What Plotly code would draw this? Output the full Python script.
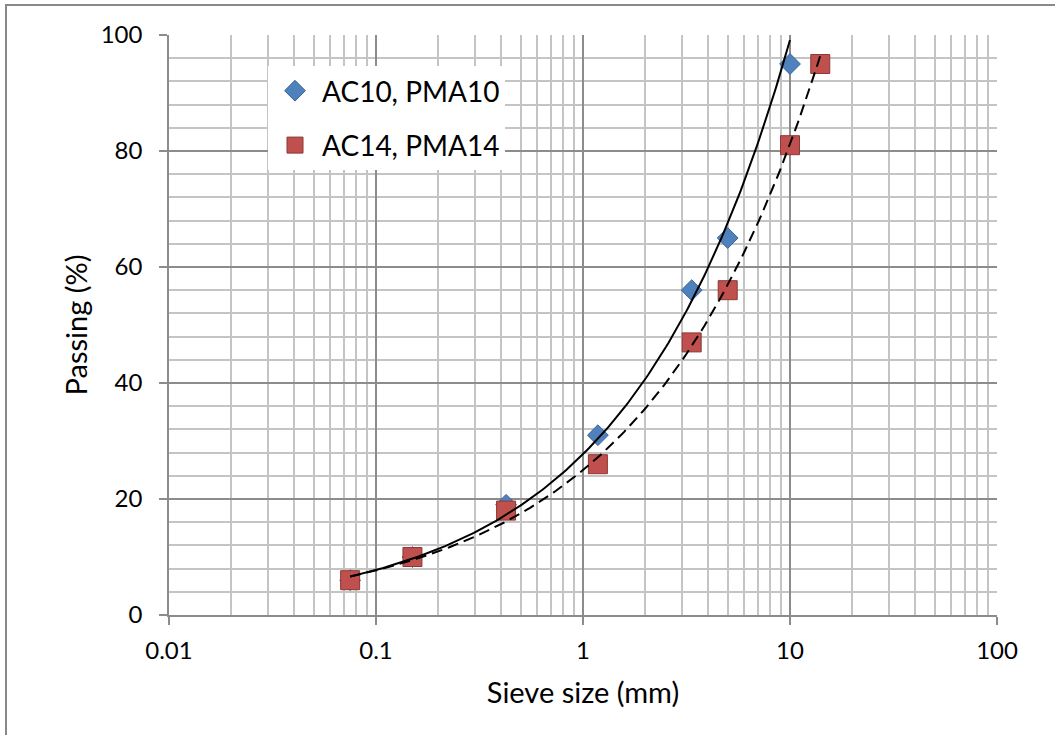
import numpy as np
import plotly.graph_objects as go

# Data (sieve size in mm, passing in %)
sieve_ac10 = [0.075, 0.15, 0.425, 1.18, 3.35, 5, 10]
passing_ac10 = [6, 10, 19, 31, 56, 65, 95]
sieve_ac14 = [0.075, 0.15, 0.425, 1.18, 3.35, 5, 10, 14]
passing_ac14 = [6, 10, 18, 26, 47, 56, 81, 95]
series_names = ["AC10, PMA10", "AC14, PMA14"]
x_tick_vals = [0.01, 0.1, 1, 10, 100]
x_tick_text = ["0.01", "0.1", "1", "10", "100"]


def power_trend(xs, ys):
    # Excel-style power trendline: least squares of ln(y) on ln(x)
    lx, ly = np.log(xs), np.log(ys)
    b, ln_a = np.polyfit(lx, ly, 1)
    xf = np.geomspace(min(xs), max(xs), 200)
    return xf, np.exp(ln_a) * xf ** b


FONT = "Lato"
fig = go.Figure()

fig.add_trace(go.Scatter(
    x=sieve_ac10, y=passing_ac10, mode="markers", name=series_names[0],
    legendgroup="a",
    marker=dict(symbol="diamond", size=16, color="#4F81BD",
                line=dict(color="#3A6496", width=1)),
))
fig.add_trace(go.Scatter(
    x=sieve_ac14, y=passing_ac14, mode="markers", name=series_names[1],
    legendgroup="b",
    marker=dict(symbol="square", size=19, color="#C0504D",
                line=dict(color="#8C3836", width=1)),
))

xf1, yf1 = power_trend(sieve_ac10, passing_ac10)
xf2, yf2 = power_trend(sieve_ac14, passing_ac14)
fig.add_trace(go.Scatter(x=xf1, y=yf1, mode="lines", showlegend=False,
                         line=dict(color="black", width=2), hoverinfo="skip"))
fig.add_trace(go.Scatter(x=xf2, y=yf2, mode="lines", showlegend=False,
                         line=dict(color="black", width=2, dash="11px,6px"),
                         hoverinfo="skip"))

L, R, T, B = 169, 58, 35, 120
W, H = 1055, 735
pw, ph = W - L - R, H - T - B

fig.update_layout(
    width=W, height=H,
    margin=dict(l=L, r=R, t=T, b=B),
    paper_bgcolor="white", plot_bgcolor="white",
    font=dict(family=FONT, color="black"),
    showlegend=True,
    legend=dict(x=(268 - L) / pw, y=(H - B - 66) / ph, xanchor="left", yanchor="top",
                bgcolor="white", borderwidth=0, font=dict(size=28, family=FONT),
                tracegroupgap=15, itemsizing="trace", itemwidth=44),
    shapes=[dict(type="rect", xref="paper", yref="paper",
                 x0=(6 - L) / pw, x1=(W + 10 - L) / pw,
                 y0=(H - B - (H + 10)) / ph, y1=(H - B - 5) / ph,
                 line=dict(color="#898989", width=2), fillcolor="rgba(0,0,0,0)",
                 layer="below")],
)

fig.update_xaxes(
    type="log", range=[-2, 2], tickvals=x_tick_vals, ticktext=x_tick_text,
    showgrid=True, gridcolor="#8c8c8c", gridwidth=1.5,
    showline=True, linecolor="#8c8c8c", linewidth=1.5,
    ticks="outside", ticklen=8, tickcolor="#8c8c8c", tickwidth=1.5,
    tickfont=dict(size=24, family=FONT), ticklabelstandoff=5,
    minor=dict(showgrid=True, gridcolor="#c4c4c4", gridwidth=1.5, dtick="D1", ticks=""),
    title=dict(text="Sieve size (mm)", font=dict(size=29, family=FONT), standoff=20),
    zeroline=False, mirror=False,
)
fig.update_yaxes(
    range=[0, 100], dtick=20, tick0=0,
    showgrid=True, gridcolor="#8c8c8c", gridwidth=1.5,
    showline=True, linecolor="#8c8c8c", linewidth=1.5,
    ticks="outside", ticklen=8, tickcolor="#8c8c8c", tickwidth=1.5,
    tickfont=dict(size=24, family=FONT), ticklabelstandoff=12,
    minor=dict(showgrid=True, gridcolor="#c4c4c4", gridwidth=1.5, dtick=4, ticks=""),
    title=dict(text="Passing (%)", font=dict(size=29, family=FONT), standoff=5),
    zeroline=False,
)

fig.write_html("out.html")
